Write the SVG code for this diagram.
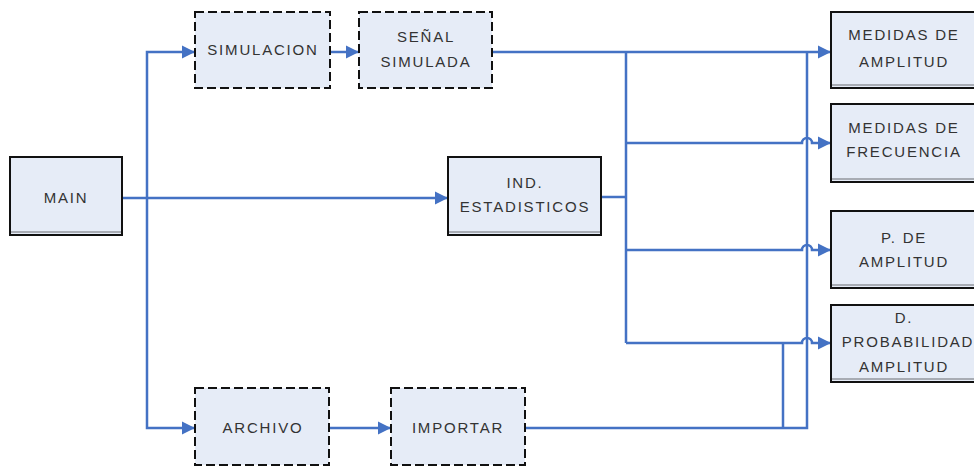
<svg xmlns="http://www.w3.org/2000/svg" width="974" height="467" viewBox="0 0 974 467">
<style>
.box{fill:#e6ecf7;stroke:#111;stroke-width:2}
.dash{fill:#e6ecf7;stroke:#111;stroke-width:2;stroke-dasharray:9 4}
.shadow{stroke:#a8acb4;stroke-width:2}
.t{font-family:"Liberation Sans",Arial,sans-serif;font-size:15px;fill:#333;text-anchor:middle;letter-spacing:1.8px}
.c{fill:none;stroke:#4472c4;stroke-width:2.5}
</style>
<defs>
<marker id="ah" markerUnits="userSpaceOnUse" markerWidth="16" markerHeight="16" refX="13" refY="8" orient="auto">
<path d="M0,1.5 L13,8 L0,14.5 Z" fill="#4472c4"/>
</marker>
</defs>
<rect width="974" height="467" fill="#fff"/>
<g id="connectors">
<path class="c" d="M122,198 H448" marker-end="url(#ah)"/>
<path class="c" d="M147,198 V52 H195" marker-end="url(#ah)"/>
<path class="c" d="M147,198 V428 H195" marker-end="url(#ah)"/>
<path class="c" d="M330,52 H359" marker-end="url(#ah)"/>
<path class="c" d="M329,428 H391" marker-end="url(#ah)"/>
<path class="c" d="M492,52 H831" marker-end="url(#ah)"/>
<path class="c" d="M601,197 H626"/>
<path class="c" d="M626,52 V343"/>
<path class="c" d="M626,143 H802 A5,5 0 0 1 812,143 H831" marker-end="url(#ah)"/>
<path class="c" d="M626,250 H802 A5,5 0 0 1 812,250 H831" marker-end="url(#ah)"/>
<path class="c" d="M626,343 H802 A5,5 0 0 1 812,343 H831" marker-end="url(#ah)"/>
<path class="c" d="M525,428 H807 V52"/>
<path class="c" d="M783,428 V343"/>
</g>
<g id="main">
<rect class="box" x="10" y="157" width="112" height="78"/>
<line class="shadow" x1="11" y1="232" x2="121" y2="232"/>
<text class="t" x="66" y="203">MAIN</text>
</g>
<g id="simulacion">
<rect class="dash" x="195" y="12" width="135" height="76"/>
<text class="t" x="263" y="55">SIMULACION</text>
</g>
<g id="senal">
<rect class="dash" x="359" y="12" width="133" height="76"/>
<text class="t" x="426" y="42">SEÑAL</text>
<text class="t" x="426" y="67">SIMULADA</text>
</g>
<g id="ind">
<rect class="box" x="448" y="157" width="153" height="78"/>
<line class="shadow" x1="449" y1="232" x2="600" y2="232"/>
<text class="t" x="525" y="188">IND.</text>
<text class="t" x="525" y="212">ESTADISTICOS</text>
</g>
<g id="archivo">
<rect class="dash" x="195" y="388" width="134" height="77"/>
<text class="t" x="263" y="433">ARCHIVO</text>
</g>
<g id="importar">
<rect class="dash" x="391" y="388" width="134" height="77"/>
<text class="t" x="458" y="433">IMPORTAR</text>
</g>
<g id="amplitud">
<rect class="box" x="831" y="12" width="160" height="76"/>
<line class="shadow" x1="832" y1="85" x2="974" y2="85"/>
<text class="t" x="904" y="40">MEDIDAS DE</text>
<text class="t" x="904" y="67">AMPLITUD</text>
</g>
<g id="frecuencia">
<rect class="box" x="831" y="104" width="160" height="78"/>
<line class="shadow" x1="832" y1="179" x2="974" y2="179"/>
<text class="t" x="904" y="133">MEDIDAS DE</text>
<text class="t" x="904" y="157">FRECUENCIA</text>
</g>
<g id="pamplitud">
<rect class="box" x="831" y="211" width="160" height="77"/>
<line class="shadow" x1="832" y1="285" x2="974" y2="285"/>
<text class="t" x="904" y="243">P. DE</text>
<text class="t" x="904" y="267">AMPLITUD</text>
</g>
<g id="dprob">
<rect class="box" x="831" y="305" width="160" height="77"/>
<line class="shadow" x1="832" y1="379" x2="974" y2="379"/>
<text class="t" x="904" y="323">D.</text>
<text class="t" x="908" y="347">PROBABILIDAD</text>
<text class="t" x="904" y="372">AMPLITUD</text>
</g>
</svg>
